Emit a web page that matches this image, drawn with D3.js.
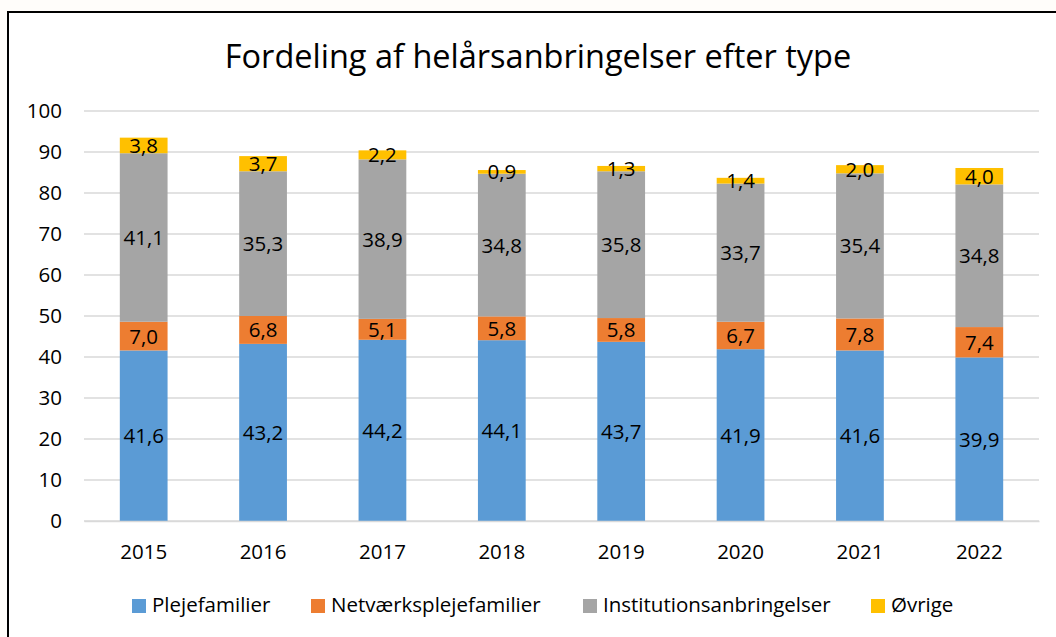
<!DOCTYPE html>
<html><head><meta charset="utf-8">
<script src="https://cdn.jsdelivr.net/npm/d3@7"></script>
<style>body{margin:0;background:#fffdfa;}svg{display:block;}</style>
</head><body>
<svg id="c" width="1056" height="637"></svg>
<script>
const years = ["2015","2016","2017","2018","2019","2020","2021","2022"];
const seriesNames = ["Plejefamilier","Netværksplejefamilier","Institutionsanbringelser","Øvrige"];
const plejefamilier = [41.6,43.2,44.2,44.1,43.7,41.9,41.6,39.9];
const netvaerk = [7.0,6.8,5.1,5.8,5.8,6.7,7.8,7.4];
const institution = [41.1,35.3,38.9,34.8,35.8,33.7,35.4,34.8];
const oevrige = [3.8,3.7,2.2,0.9,1.3,1.4,2.0,4.0];
const yTicks = [0,10,20,30,40,50,60,70,80,90,100];
const colors = ["#5B9BD5","#ED7D31","#A5A5A5","#FFC000"];
const title = "Fordeling af helårsanbringelser efter type";

const font = "'Open Sans', sans-serif";
const fs = 20.5;
const svg = d3.select("#c");
svg.append("rect").attr("x",8).attr("y",12).attr("width",1100).attr("height",700)
  .attr("fill","#fff").attr("stroke","#000").attr("stroke-width",2);

const x = d3.scaleBand().domain(years).range([84,1039]).paddingInner(0.6).paddingOuter(0.3);
const y = d3.scaleLinear().domain([0,100]).range([521,111]);

svg.append("text").attr("x",538).attr("y",68).attr("text-anchor","middle")
  .attr("font-family",font).attr("font-size",32.5).attr("fill","#000").text(title);

const g = svg.append("g");
g.selectAll("line.grid").data(yTicks).join("line")
  .attr("x1",84).attr("x2",1039).attr("y1",d=>y(d)).attr("y2",d=>y(d))
  .attr("stroke","#D9D9D9").attr("stroke-width",1.5);

const yAxis = svg.append("g").attr("transform","translate(84,0)")
  .call(d3.axisLeft(y).tickValues(yTicks).tickSize(0).tickPadding(22));
yAxis.select(".domain").remove();
yAxis.selectAll("text").attr("font-family",font).attr("font-size",fs).attr("fill","#000");

const data = years.map((yr,i)=>({year:yr, s0:plejefamilier[i], s1:netvaerk[i], s2:institution[i], s3:oevrige[i]}));
const stack = d3.stack().keys(["s0","s1","s2","s3"])(data);

stack.forEach((layer,li)=>{
  const lg = svg.append("g");
  lg.selectAll("rect").data(layer).join("rect")
    .attr("x",d=>x(d.data.year)).attr("width",x.bandwidth())
    .attr("y",d=>y(d[1])).attr("height",d=>y(d[0])-y(d[1]))
    .attr("fill",colors[li]);
  lg.selectAll("text").data(layer).join("text")
    .attr("x",d=>x(d.data.year)+x.bandwidth()/2)
    .attr("y",d=>(y(d[0])+y(d[1]))/2+7.5)
    .attr("text-anchor","middle").attr("font-family",font).attr("font-size",fs).attr("fill","#000")
    .text(d=>d3.format(".1f")(d[1]-d[0]).replace(".",","));
});

const xAxis = svg.append("g").attr("transform","translate(0,521)")
  .call(d3.axisBottom(x).tickSize(0).tickPadding(23));
xAxis.select(".domain").attr("stroke","#D9D9D9").attr("stroke-width",1.5);
xAxis.selectAll("text").attr("font-family",font).attr("font-size",fs).attr("fill","#000");

const legX = [132,311,583,871];
const leg = svg.append("g");
seriesNames.forEach((n,i)=>{
  leg.append("rect").attr("x",legX[i]).attr("y",599).attr("width",14).attr("height",14).attr("fill",colors[i]);
  leg.append("text").attr("x",legX[i]+20).attr("y",612).attr("font-family",font).attr("font-size",fs).attr("fill","#000").text(n);
});
</script>
</body></html>
